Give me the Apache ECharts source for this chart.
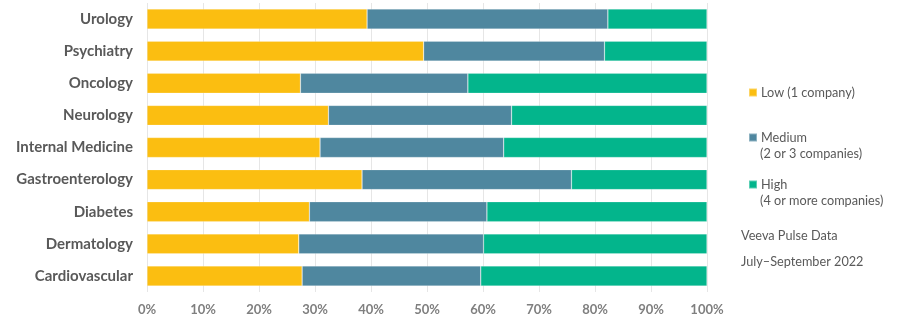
<!DOCTYPE html>
<html>
<head>
<meta charset="utf-8">
<script src="https://cdn.jsdelivr.net/npm/echarts@6/dist/echarts.min.js"></script>
<style>
html,body{margin:0;padding:0;background:#fff;}
#chart{width:900px;height:324px;}
</style>
</head>
<body>
<div id="chart"></div>
<script>
var categories = ['Urology','Psychiatry','Oncology','Neurology','Internal Medicine','Gastroenterology','Diabetes','Dermatology','Cardiovascular'];
var lowValues = [39.3, 49.4, 27.4, 32.4, 30.9, 38.4, 29.0, 27.1, 27.7];
var mediumValues = [43.0, 32.3, 29.9, 32.7, 32.8, 37.4, 31.7, 33.0, 31.9];
var highValues = [17.7, 18.3, 42.7, 34.9, 36.3, 24.2, 39.3, 39.9, 40.4];
var seriesNames = ['Low (1 company)', 'Medium', 'High'];
var seriesSubLabels = ['', '(2 or 3 companies)', '(4 or more companies)'];
var xTicks = [0, 10, 20, 30, 40, 50, 60, 70, 80, 90, 100];
var sourceNote = 'Veeva Pulse Data';
var periodNote = 'July\u2013September 2022';

var colors = ['#FBBE11', '#4F879F', '#03B58C'];
var FONT = 'Lato, "Open Sans", sans-serif';

var chart = echarts.init(document.getElementById('chart'), null, {renderer: 'canvas'});

function mkSeries(name, data, color) {
  return {
    name: name,
    type: 'bar',
    stack: 'total',
    data: data,
    barWidth: 20,
    itemStyle: {color: color, borderColor: 'rgba(255,255,255,0.35)', borderWidth: 0.6},
    emphasis: {disabled: true}
  };
}

var legendTops = [81, 126, 173];
var legends = seriesNames.map(function (n, i) {
  return {
    data: [n],
    left: 743,
    top: legendTops[i],
    icon: 'rect',
    itemWidth: 8,
    itemHeight: 8,
    itemGap: 4,
    selectedMode: false,
    textStyle: {fontFamily: FONT, fontSize: 12.7, color: '#595959', padding: [0, 0, 0, -1]}
  };
});

var subTops = [0, 147, 194];
var graphics = [];
seriesSubLabels.forEach(function (s, i) {
  if (!s) return;
  graphics.push({
    type: 'text',
    left: 760,
    top: subTops[i],
    style: {text: s, font: '12.7px ' + FONT, fill: '#595959'}
  });
});
graphics.push({type: 'text', left: 741, top: 229, style: {text: sourceNote, font: '12.7px ' + FONT, fill: '#595959'}});
graphics.push({type: 'text', left: 741, top: 255, style: {text: periodNote, font: '12.7px ' + FONT, fill: '#595959'}});

chart.setOption({
  animation: false,
  backgroundColor: '#ffffff',
  color: colors,
  legend: legends,
  graphic: graphics,
  grid: {left: 147, right: 193, top: 3, bottom: 32, containLabel: false},
  xAxis: {
    type: 'value',
    min: 0,
    max: 100,
    interval: 10,
    axisLine: {show: false},
    axisTick: {show: false},
    splitLine: {show: true, lineStyle: {color: '#E6E6E6', width: 1}},
    axisLabel: {
      margin: 11,
      fontFamily: FONT,
      fontSize: 13,
      fontWeight: 'bold',
      color: '#7F7F7F',
      formatter: function (v) { return xTicks.indexOf(v) >= 0 ? v + '%' : ''; }
    }
  },
  yAxis: {
    type: 'category',
    data: categories,
    inverse: true,
    axisLine: {show: false},
    axisTick: {show: false},
    splitLine: {show: false},
    axisLabel: {
      margin: 14,
      fontFamily: FONT,
      fontSize: 15,
      fontWeight: 'bold',
      color: '#595959'
    }
  },
  series: [
    mkSeries(seriesNames[0], lowValues, colors[0]),
    mkSeries(seriesNames[1], mediumValues, colors[1]),
    mkSeries(seriesNames[2], highValues, colors[2])
  ]
});
</script>
</body>
</html>
